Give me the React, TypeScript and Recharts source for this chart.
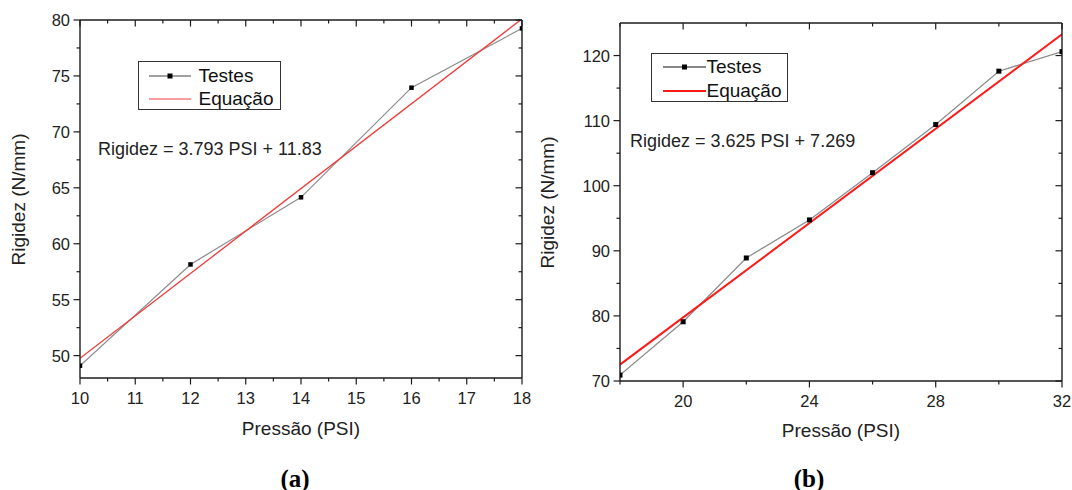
import React from "react";
import { ComposedChart, Line, XAxis, YAxis } from "recharts";

// ---- painel (a) ----
const pressaoA = [10, 12, 14, 16, 18];
const rigidezA = [49.1, 58.15, 64.15, 73.95, 79.25];
const eqPressaoA = [10, 18];
const eqRigidezA = [49.76, 80.1];
const xMajorA = [10, 11, 12, 13, 14, 15, 16, 17, 18];
const xMinorA = [10.5, 11.5, 12.5, 13.5, 14.5, 15.5, 16.5, 17.5];
const yMajorA = [50, 55, 60, 65, 70, 75, 80];
const yMinorA = [52.5, 57.5, 62.5, 67.5, 72.5, 77.5];

// ---- painel (b) ----
const pressaoB = [18, 20, 22, 24, 26, 28, 30, 32];
const rigidezB = [70.9, 79.1, 88.9, 94.75, 102.0, 109.4, 117.6, 120.6];
const eqPressaoB = [18, 32];
const eqRigidezB = [72.52, 123.27];
const xMajorB = [20, 24, 28, 32];
const xMinorB = [18, 22, 26, 30];
const yMajorB = [70, 80, 90, 100, 110, 120];
const yMinorB = [75, 85, 95, 105, 115];

const FONT = "'Liberation Sans', Arial, sans-serif";
const INK = "#1c1c1c";

type Side = "bottom" | "left" | "top" | "right";

function makeTick(side: Side, majors: number[], labels: boolean) {
  return (props: any) => {
    const { x, y, payload } = props;
    const v = payload.value;
    const major = majors.some((m) => Math.abs(m - v) < 1e-6);
    const len = major ? 6.5 : 3.5;
    let line;
    if (side === "bottom" || side === "top") {
      line = <line x1={x} y1={y} x2={x} y2={y + len} stroke={INK} strokeWidth={1.2} />;
    } else {
      line = <line x1={x} y1={y} x2={x - len} y2={y} stroke={INK} strokeWidth={1.2} />;
    }
    let label = null;
    if (labels && major) {
      if (side === "bottom") {
        label = (
          <text x={x} y={y + 26} textAnchor="middle" fontSize={16.5} fontFamily={FONT} fill="#222">
            {v}
          </text>
        );
      } else if (side === "left") {
        label = (
          <text x={x - 10} y={y + 6} textAnchor="end" fontSize={16.5} fontFamily={FONT} fill="#222">
            {v}
          </text>
        );
      }
    }
    return (
      <g>
        {line}
        {label}
      </g>
    );
  };
}

const squareDot = (size: number) => (p: any) => (
  <rect
    key={`d-${p.index}`}
    x={p.cx - size / 2}
    y={p.cy - size / 2}
    width={size}
    height={size}
    fill="#000"
  />
);

interface PanelProps {
  left: number;
  width: number;
  margin: { top: number; right: number; bottom: number; left: number };
  xDomain: [number, number];
  yDomain: [number, number];
  xMajor: number[];
  xMinor: number[];
  yMajor: number[];
  yMinor: number[];
  xs: number[];
  ys: number[];
  eqXs: number[];
  eqYs: number[];
  fitColor: string;
  fitWidth: number;
  markerSize: number;
}

function Panel(p: PanelProps) {
  const tests = p.xs.map((x, i) => ({ x, y: p.ys[i] }));
  const fit = p.eqXs.map((x, i) => ({ x, y: p.eqYs[i] }));
  const xTicks = [...p.xMajor, ...p.xMinor].sort((a, b) => a - b);
  const yTicks = [...p.yMajor, ...p.yMinor].sort((a, b) => a - b);
  const axisLine = { stroke: INK, strokeWidth: 1.4 };
  // axes are 1px thick, so the margins are one pixel short of the plot box
  const m = {
    top: p.margin.top - 1,
    bottom: p.margin.bottom - 1,
    left: p.margin.left - 1,
    right: p.margin.right - 1,
  };
  return (
    <div style={{ position: "absolute", left: p.left, top: 0 }}>
      <ComposedChart width={p.width} height={490} margin={m}>
        <XAxis
          xAxisId="b"
          type="number"
          dataKey="x"
          domain={p.xDomain}
          allowDataOverflow
          ticks={xTicks}
          interval={0}
          height={1}
          tickSize={0}
          tickMargin={0}
          tickLine={false}
          axisLine={axisLine}
          tick={makeTick("bottom", p.xMajor, true)}
        />
        <XAxis
          xAxisId="t"
          orientation="top"
          type="number"
          dataKey="x"
          domain={p.xDomain}
          allowDataOverflow
          ticks={xTicks}
          interval={0}
          height={1}
          tickSize={0}
          tickMargin={0}
          tickLine={false}
          axisLine={axisLine}
          tick={makeTick("top", p.xMajor, false)}
        />
        <YAxis
          yAxisId="l"
          type="number"
          domain={p.yDomain}
          allowDataOverflow
          ticks={yTicks}
          interval={0}
          width={1}
          tickSize={0}
          tickMargin={0}
          tickLine={false}
          axisLine={axisLine}
          tick={makeTick("left", p.yMajor, true)}
        />
        <YAxis
          yAxisId="r"
          orientation="right"
          type="number"
          domain={p.yDomain}
          allowDataOverflow
          ticks={yTicks}
          interval={0}
          width={1}
          tickSize={0}
          tickMargin={0}
          tickLine={false}
          axisLine={axisLine}
          tick={makeTick("right", p.yMajor, false)}
        />
        <Line
          xAxisId="b"
          yAxisId="l"
          data={tests}
          dataKey="y"
          type="linear"
          stroke="#8a8a8a"
          strokeWidth={1.2}
          dot={squareDot(p.markerSize)}
          activeDot={false}
          isAnimationActive={false}
        />
        <Line
          xAxisId="t"
          yAxisId="r"
          data={fit}
          dataKey="y"
          type="linear"
          stroke={p.fitColor}
          strokeWidth={p.fitWidth}
          dot={false}
          activeDot={false}
          isAnimationActive={false}
        />
      </ComposedChart>
    </div>
  );
}

const abs = (s: React.CSSProperties): React.CSSProperties => ({ position: "absolute", ...s });

function LegendBox(props: {
  left: number;
  top: number;
  width: number;
  rows: [number, number];
  lineX: [number, number];
  textX: number;
  testColor: string;
  fitColor: string;
  fitWidth: number;
}) {
  const { left, top, width, rows, lineX, textX } = props;
  const mid = (lineX[0] + lineX[1]) / 2;
  return (
    <div
      style={abs({
        left,
        top,
        width,
        height: 49,
        border: "1.5px solid #333",
        boxSizing: "border-box",
        background: "#fff",
      })}
    >
      <svg width={width} height={49} style={{ position: "absolute", left: -1.5, top: -1.5 }}>
        <line x1={lineX[0]} x2={lineX[1]} y1={rows[0]} y2={rows[0]} stroke={props.testColor} strokeWidth={1.2} />
        <rect x={mid - 2.5} y={rows[0] - 2.5} width={5} height={5} fill="#000" />
        <line x1={lineX[0]} x2={lineX[1]} y1={rows[1]} y2={rows[1]} stroke={props.fitColor} strokeWidth={props.fitWidth} />
      </svg>
      {["Testes", "Equação"].map((t, i) => (
        <div
          key={t}
          style={abs({
            left: textX - 1.5,
            top: rows[i] - 1.5 - 9.5,
            fontSize: 19,
            lineHeight: "19px",
            fontFamily: FONT,
            color: "#111",
            whiteSpace: "nowrap",
          })}
        >
          {t}
        </div>
      ))}
    </div>
  );
}

const textStyle = (left: number, cy: number, size: number): React.CSSProperties =>
  abs({
    left,
    top: cy - size / 2,
    fontSize: size,
    lineHeight: `${size}px`,
    fontFamily: FONT,
    color: "#222",
    whiteSpace: "nowrap",
  });

export default function App() {
  return (
    <div style={abs({ left: 0, top: 0, width: 1072, height: 490, background: "#fff", overflow: "hidden" })}>
      <Panel
        left={0}
        width={540}
        margin={{ top: 20, right: 18, bottom: 112, left: 80 }}
        xDomain={[10, 18]}
        yDomain={[48, 80]}
        xMajor={xMajorA}
        xMinor={xMinorA}
        yMajor={yMajorA}
        yMinor={yMinorA}
        xs={pressaoA}
        ys={rigidezA}
        eqXs={eqPressaoA}
        eqYs={eqRigidezA}
        fitColor="#f03c3c"
        fitWidth={1.3}
        markerSize={4.5}
      />
      <Panel
        left={530}
        width={542}
        margin={{ top: 23, right: 10, bottom: 109, left: 90 }}
        xDomain={[18, 32]}
        yDomain={[70, 125]}
        xMajor={xMajorB}
        xMinor={xMinorB}
        yMajor={yMajorB}
        yMinor={yMinorB}
        xs={pressaoB}
        ys={rigidezB}
        eqXs={eqPressaoB}
        eqYs={eqRigidezB}
        fitColor="#ff1a1a"
        fitWidth={2}
        markerSize={5}
      />

      <LegendBox
        left={138}
        top={61}
        width={143}
        rows={[15, 38]}
        lineX={[11, 53]}
        textX={61}
        testColor="#444"
        fitColor="#f03c3c"
        fitWidth={1.2}
      />
      <LegendBox
        left={651}
        top={53}
        width={137}
        rows={[14, 38]}
        lineX={[12, 55]}
        textX={56}
        testColor="#111"
        fitColor="#ff1a1a"
        fitWidth={2}
      />

      <div style={textStyle(98, 149, 18)}>Rigidez = 3.793 PSI + 11.83</div>
      <div style={textStyle(630, 141, 18)}>Rigidez = 3.625 PSI + 7.269</div>

      {/* axis titles */}
      <div style={{ ...textStyle(0, 428, 19), width: 602, textAlign: "center" }}>Pressão (PSI)</div>
      <div style={{ ...textStyle(620, 430, 19), width: 442, textAlign: "center" }}>Pressão (PSI)</div>
      <div
        style={abs({
          left: 18 - 100,
          top: 199 - 9.5,
          width: 200,
          textAlign: "center",
          fontSize: 19,
          lineHeight: "19px",
          fontFamily: FONT,
          color: "#222",
          transform: "rotate(-90deg)",
        })}
      >
        Rigidez (N/mm)
      </div>
      <div
        style={abs({
          left: 547 - 100,
          top: 202 - 9.5,
          width: 200,
          textAlign: "center",
          fontSize: 19,
          lineHeight: "19px",
          fontFamily: FONT,
          color: "#222",
          transform: "rotate(-90deg)",
        })}
      >
        Rigidez (N/mm)
      </div>

      {/* captions */}
      {[
        { t: "(a)", cx: 295 },
        { t: "(b)", cx: 809 },
      ].map((c) => (
        <div
          key={c.t}
          style={abs({
            left: c.cx - 40,
            top: 478 - 12.5,
            width: 80,
            textAlign: "center",
            fontSize: 25,
            lineHeight: "25px",
            fontWeight: "bold",
            fontFamily: "'Liberation Serif', 'Times New Roman', serif",
            color: "#000",
          })}
        >
          {c.t}
        </div>
      ))}
    </div>
  );
}
